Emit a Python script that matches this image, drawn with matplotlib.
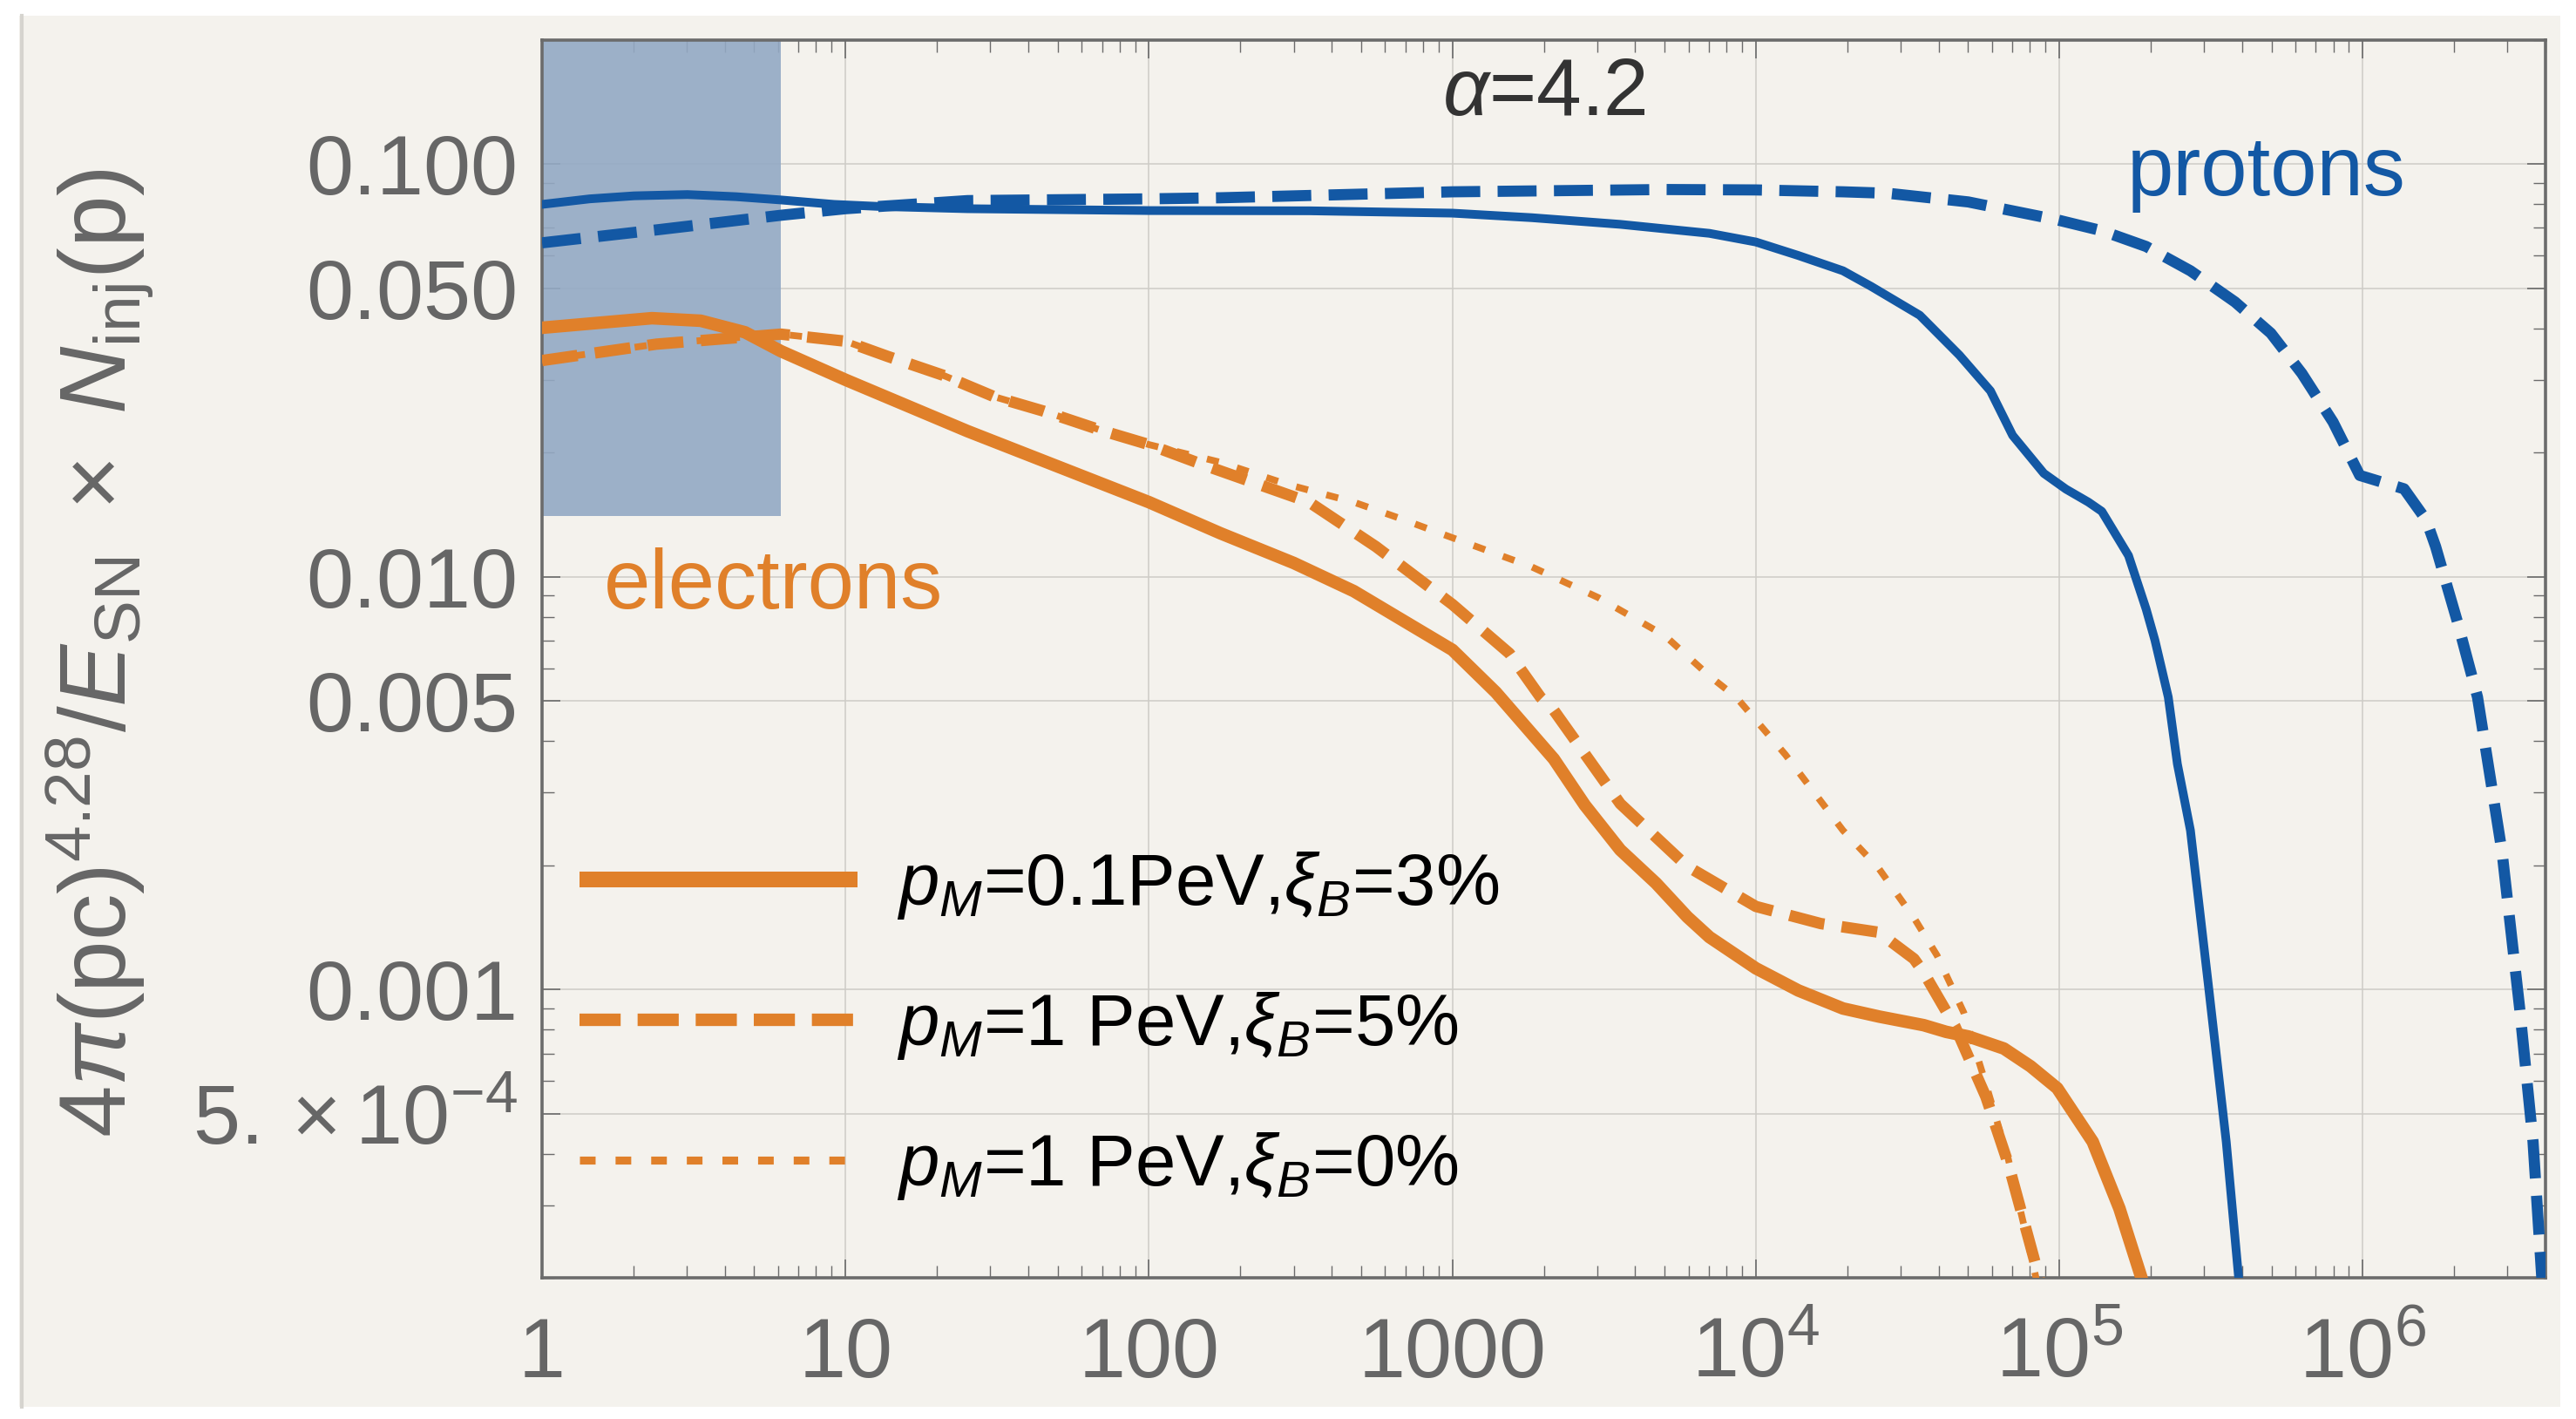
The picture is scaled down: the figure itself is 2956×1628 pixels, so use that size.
import matplotlib
matplotlib.use('Agg')
import numpy as np
import matplotlib.pyplot as plt
from matplotlib.lines import Line2D
from matplotlib.patches import Rectangle
from matplotlib.ticker import FixedLocator, FixedFormatter, NullFormatter

plt.rcParams['font.family'] = ['Liberation Sans', 'DejaVu Sans']
plt.rcParams['mathtext.fontset'] = 'custom'
plt.rcParams['mathtext.rm'] = 'Liberation Sans'
plt.rcParams['mathtext.it'] = 'Liberation Sans:italic'
plt.rcParams['mathtext.bf'] = 'Liberation Sans:bold'
plt.rcParams['mathtext.sf'] = 'Liberation Sans'

# ---------------- data (log10 p, value) ----------------
p_solid_logp = [0.0, 0.157, 0.303, 0.479, 0.64, 0.787, 0.962, 1.109, 1.402, 2.0, 2.528, 3.0,
                3.261, 3.553, 3.847, 4.0, 4.14, 4.287, 4.38, 4.54, 4.671, 4.773, 4.846, 4.949,
                5.022, 5.096, 5.14, 5.228, 5.286, 5.315, 5.359, 5.389, 5.432, 5.4915, 5.55,
                5.591, 5.60]
p_solid_val = [0.0798, 0.0823, 0.0837, 0.0843, 0.0833, 0.0818, 0.0798, 0.0789, 0.0779, 0.0771,
               0.0770, 0.0760, 0.0741, 0.0714, 0.0679, 0.0647, 0.0600, 0.0551, 0.0505, 0.0430,
               0.0344, 0.0282, 0.0220, 0.0178, 0.0163, 0.01516, 0.0144, 0.01125, 0.00835,
               0.00702, 0.00511, 0.00352, 0.00243, 0.00102, 0.000428, 0.000200, 0.00018]

p_dash_logp = [0.0, 0.376, 0.787, 1.0, 1.402, 2.0, 2.235, 3.0, 3.70, 4.0, 4.287, 4.436, 4.70,
               4.993, 5.14, 5.286, 5.432, 5.579, 5.697, 5.799, 5.902, 5.99, 6.136, 6.209, 6.24,
               6.312, 6.378, 6.459, 6.517, 6.561, 6.59, 6.60]
p_dash_val = [0.0644, 0.0692, 0.0751, 0.0779, 0.0815, 0.0823, 0.0828, 0.0856, 0.0867, 0.0865,
              0.0856, 0.0849, 0.0809, 0.0732, 0.0689, 0.0631, 0.0551, 0.0463, 0.0389, 0.0311,
              0.0237, 0.0176, 0.01633, 0.01372, 0.01183, 0.00777, 0.00511, 0.00215, 0.00090,
              0.000428, 0.000200, 0.00018]

e_solid_logp = [0.0, 0.362, 0.523, 0.669, 0.787, 1.0, 1.402, 2.0, 2.235, 2.477, 2.675, 3.0,
                3.143, 3.334, 3.436, 3.553, 3.671, 3.774, 3.847, 4.0, 4.14, 4.287, 4.407, 4.553,
                4.627, 4.70, 4.817, 4.905, 4.993, 5.11, 5.198, 5.271, 5.28]
e_solid_val = [0.0401, 0.0423, 0.0417, 0.0391, 0.0352, 0.0300, 0.02253, 0.01516, 0.01275,
               0.0108, 0.00923, 0.00665, 0.00525, 0.00362, 0.00280, 0.00218, 0.00181, 0.00150,
               0.00134, 0.001126, 0.000995, 0.00090, 0.00086, 0.00082, 0.00079, 0.00077,
               0.00072, 0.000652, 0.000577, 0.000428, 0.000295, 0.000200, 0.00019]

e_dash_logp = [0.0, 0.377, 0.787, 1.0, 1.138, 1.32, 1.49, 1.652, 1.849, 2.0, 2.185, 2.528,
               2.748, 3.0, 3.188, 3.29, 3.334, 3.553, 3.773, 4.0, 4.214, 4.404, 4.521, 4.553,
               4.656, 4.758, 4.832, 4.927, 4.94]
e_dash_val = [0.0334, 0.0366, 0.0387, 0.0372, 0.0342, 0.0308, 0.0273, 0.0252, 0.02255, 0.0209,
              0.0186, 0.01516, 0.01183, 0.00857, 0.00652, 0.00511, 0.00475, 0.00282, 0.00199,
              0.00159, 0.001445, 0.001377, 0.001187, 0.00110, 0.000815, 0.00055, 0.000378,
              0.000209, 0.00019]

e_dot_logp = [0.0, 0.377, 0.787, 1.0, 1.138, 1.32, 1.49, 1.652, 1.849, 2.0, 2.235, 2.455,
              2.675, 2.821, 3.0, 3.261, 3.481, 3.70, 3.847, 3.935, 4.097, 4.287, 4.404, 4.524,
              4.597, 4.685, 4.758, 4.832, 4.905, 4.93]
e_dot_val = [0.0334, 0.0366, 0.0387, 0.0372, 0.0342, 0.0308, 0.0273, 0.0252, 0.02255, 0.0209,
             0.01894, 0.01675, 0.01516, 0.0139, 0.01243, 0.01057, 0.0089, 0.0072, 0.00575,
             0.00511, 0.00371, 0.00243, 0.00197, 0.00148, 0.00121, 0.00088, 0.00059, 0.000388,
             0.00023, 0.00019]

band_x = [1.0, 6.12]
band_y = [0.01406, 0.2]

xlim = (1.0, 4.0e6)
ylim = (2.0e-4, 0.2)
xticks = [1, 10, 100, 1000, 1e4, 1e5, 1e6]
xticklabels = ['1', '10', '100', '1000', r'$10^{4}$', r'$10^{5}$', r'$10^{6}$']
yticks = [5e-4, 1e-3, 5e-3, 1e-2, 5e-2, 1e-1]
yticklabels = [r'$5.\times10^{-4}$', '0.001', '0.005', '0.010', '0.050', '0.100']

legend_labels = [r'$p_M$=0.1PeV,$\xi_B$=3%', r'$p_M$=1 PeV,$\xi_B$=5%', r'$p_M$=1 PeV,$\xi_B$=0%']

BLUE = '#1358a4'
ORANGE = '#e0802a'
GRAY = '#666666'
FRAME = '#6b6b6b'

W, H = 2956, 1628
fig = plt.figure(figsize=(W / 100, H / 100), dpi=100, facecolor='white')

# paper-like panel
fig.patches.append(Rectangle((22 / W, 14 / H), (2938 - 22) / W, (1610 - 14) / H,
                             transform=fig.transFigure, facecolor='#f4f2ed',
                             edgecolor='none', zorder=-10))
fig.lines.append(Line2D([25 / W, 25 / W], [14 / H, 1610 / H], transform=fig.transFigure,
                        color='#d6d4cf', lw=3, zorder=-9))

ax = fig.add_axes([622 / W, 1 - 1466.4 / H, (2921 - 622) / W, (1466.4 - 45.5) / H])
ax.set_facecolor('none')
ax.set_xscale('log')
ax.set_yscale('log')
ax.set_xlim(*xlim)
ax.set_ylim(*ylim)

# shaded band
ax.add_patch(Rectangle((band_x[0], band_y[0]), band_x[1] - band_x[0], band_y[1] - band_y[0],
                       facecolor='#93a9c4', alpha=0.9, edgecolor='none', zorder=1))

def P(lp):
    return 10 ** np.asarray(lp)

ax.plot(P(p_solid_logp), p_solid_val, color=BLUE, lw=7.2, solid_joinstyle='round', zorder=3)
ax.plot(P(p_dash_logp), p_dash_val, color=BLUE, lw=9.2, dashes=(3.5, 1.56),
        dash_capstyle='butt', zorder=3)
ax.plot(P(e_solid_logp), e_solid_val, color=ORANGE, lw=10.4, solid_joinstyle='round', zorder=3)
ax.plot(P(e_dash_logp), e_dash_val, color=ORANGE, lw=9.4, dashes=(3.15, 1.54),
        dash_capstyle='butt', zorder=3)
ax.plot(P(e_dot_logp), e_dot_val, color=ORANGE, lw=5.6, dashes=(1.8, 2.8),
        dash_capstyle='butt', zorder=3)

# ticks
minor_x = [k * 10 ** e for e in range(0, 7) for k in range(2, 10) if k * 10 ** e <= xlim[1]]
minor_y = [k * 10.0 ** e for e in range(-4, 0) for k in (2, 3, 4, 6, 7, 8, 9)
           if ylim[0] <= k * 10.0 ** e <= ylim[1]]
ax.xaxis.set_major_locator(FixedLocator(xticks))
ax.xaxis.set_major_formatter(FixedFormatter(xticklabels))
ax.xaxis.set_minor_locator(FixedLocator(minor_x))
ax.xaxis.set_minor_formatter(NullFormatter())
ax.yaxis.set_major_locator(FixedLocator(yticks))
ax.yaxis.set_major_formatter(FixedFormatter(yticklabels))
ax.yaxis.set_minor_locator(FixedLocator(minor_y))
ax.yaxis.set_minor_formatter(NullFormatter())

ax.tick_params(which='both', direction='in', top=True, right=True, color=FRAME,
               labelcolor=GRAY, labelsize=70)
ax.tick_params(which='major', length=15, width=1.2)
ax.tick_params(which='minor', length=10, width=1.0)
ax.tick_params(axis='x', which='major', pad=82)
ax.tick_params(axis='y', which='major', pad=20)
for lab in ax.get_xticklabels():
    lab.set_va('baseline')

for s in ax.spines.values():
    s.set_color(FRAME)
    s.set_linewidth(2.6)

ax.set_axisbelow(True)
ax.grid(True, which='major', color='#cdcbc7', lw=1.1)

# y label
ax.set_ylabel(r'$4\pi(\mathrm{pc})^{4.28}/E_{\mathrm{SN}}\ \times\ N_{\mathrm{inj}}(\mathrm{p})$',
              fontsize=77, color=GRAY, va='baseline')
ax.yaxis.set_label_coords(-0.2075, 0.505)

# annotations
ax.text(2000, 0.1311, r'$\alpha$=4.2', fontsize=67, color='#333333', ha='center', va='baseline')
ax.text(1.67e5, 0.0839, 'protons', fontsize=69, color=BLUE, ha='left', va='baseline')
ax.text(1.6, 0.00839, 'electrons', fontsize=69, color=ORANGE, ha='left', va='baseline')

# legend
handles = [Line2D([], [], color=ORANGE, lw=13, solid_capstyle='butt'),
           Line2D([], [], color=ORANGE, lw=10.3, dashes=(3.3, 1.36), dash_capstyle='butt'),
           Line2D([], [], color=ORANGE, lw=6.6, dashes=(1.96, 2.5), dash_capstyle='butt')]
leg = ax.legend(handles, legend_labels, loc='upper left', bbox_to_anchor=(0.0187, 0.346),
                frameon=False, fontsize=60, handlelength=3.83, handletextpad=0.54,
                labelspacing=0.95, borderpad=0, borderaxespad=0)
for t in leg.get_texts():
    t.set_color('black')

fig.savefig('out.png', dpi=100, facecolor='white')
